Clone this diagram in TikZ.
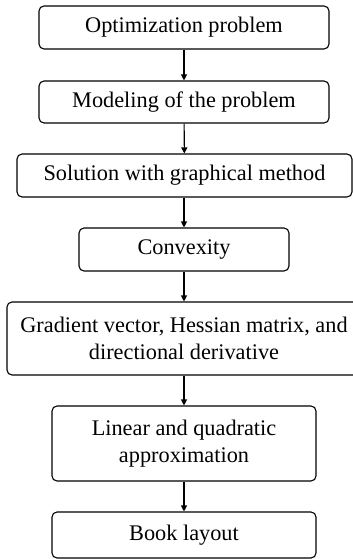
\documentclass[tikz,border=0pt]{standalone}
\usepackage{fontspec}
\setmainfont{Liberation Serif}
\usetikzlibrary{arrows.meta}
\begin{document}
\begin{tikzpicture}[x=1pt,y=-1pt,
  stepbox/.style={draw, line width=1.1pt, rounded corners=5pt, align=center,
    inner sep=0pt, font=\fontsize{22.3}{27}\selectfont},
  flow/.style={-{Triangle[length=6pt,width=6pt]}, line width=1.1pt}]
\useasboundingbox (0,0) rectangle (353,559);
\node[stepbox, minimum width=290pt, minimum height=43pt] (a) at (184,27.5) {Optimization problem};
\node[stepbox, minimum width=290pt, minimum height=42pt] (b) at (184,102) {Modeling of the problem};
\node[stepbox, minimum width=335pt, minimum height=43pt] (c) at (184.5,175.5) {Solution with graphical method};
\node[stepbox, minimum width=210pt, minimum height=43pt] (d) at (184,249.5) {Convexity};
\node[stepbox, minimum width=354pt, minimum height=73pt] (e) at (184,338.5) {Gradient vector, Hessian matrix, and\\directional derivative};
\node[stepbox, minimum width=264pt, minimum height=75pt] (f) at (184,443.5) {Linear and quadratic\\approximation};
\node[stepbox, minimum width=264pt, minimum height=46pt] (g) at (184,535) {Book layout};
\draw[flow] (a) -- (b);
\draw[flow] (b) -- (c);
\draw[flow] (c.south -| d.north) -- (d);
\draw[flow] (d) -- (e);
\draw[flow] (e) -- (f);
\draw[flow] (f) -- (g);
\end{tikzpicture}
\end{document}
